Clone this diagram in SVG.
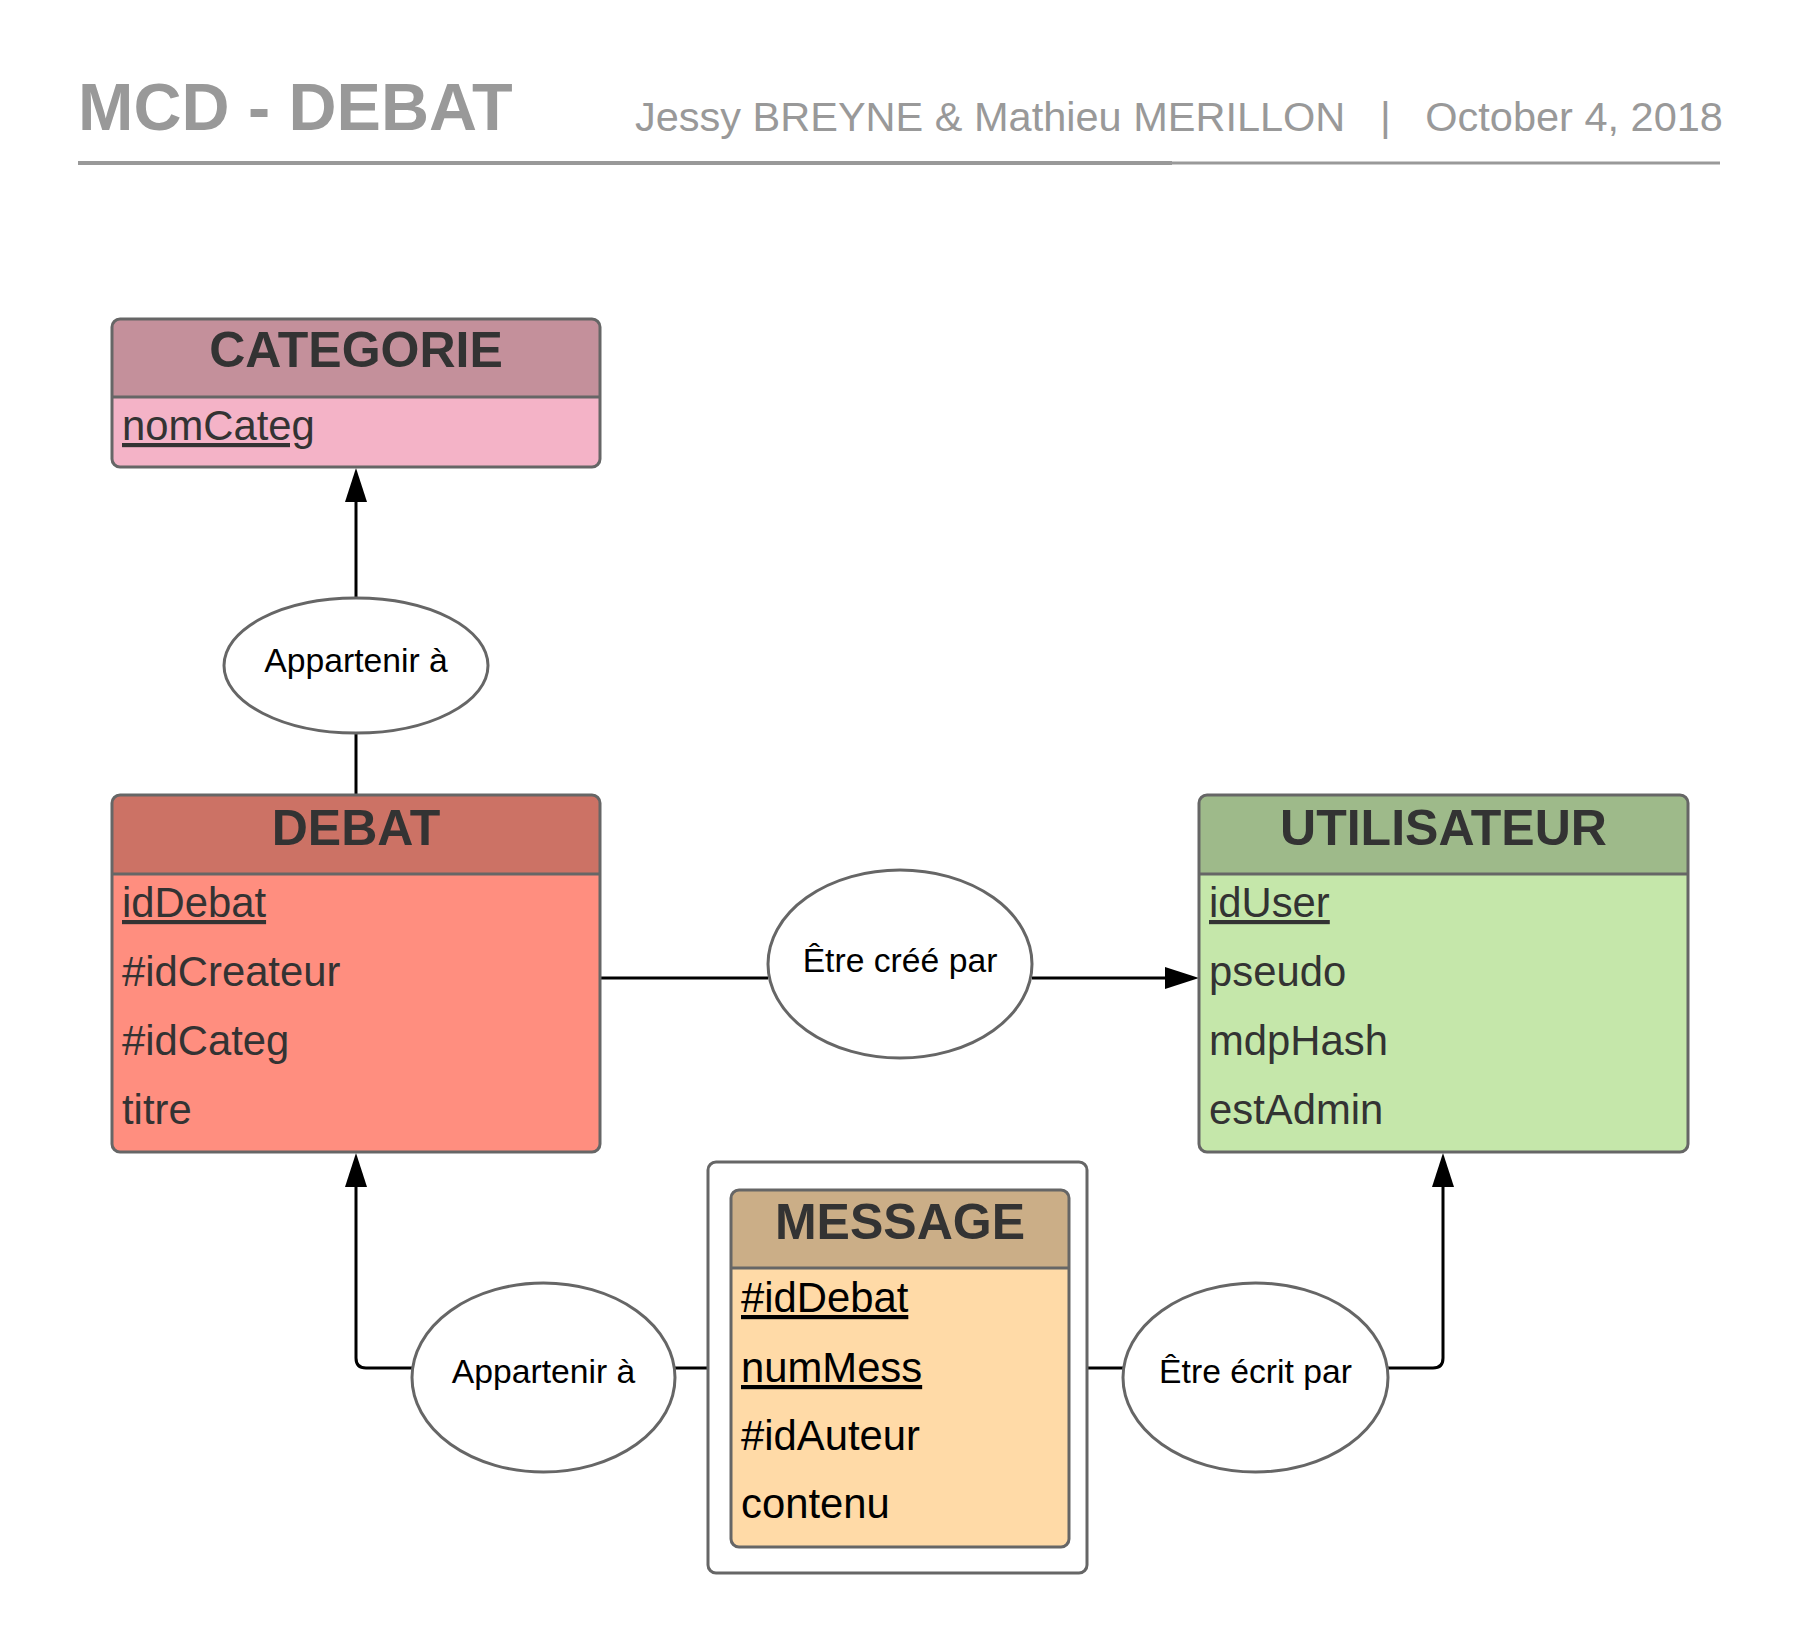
<svg xmlns="http://www.w3.org/2000/svg" width="1800" height="1650" viewBox="0 0 1800 1650">
<style>
.title{font-family:"Liberation Sans",Arial,sans-serif;font-weight:bold;font-size:66.5px;fill:#999999}
.sub{font-family:"Liberation Sans",Arial,sans-serif;font-size:41.5px;fill:#999999}
.hdr{font-family:"Liberation Sans",Arial,sans-serif;font-weight:bold;font-size:50px;fill:#333333;text-anchor:middle}
.row{font-family:"Liberation Sans",Arial,sans-serif;font-size:41.8px;fill:#333333}
.rowk{font-family:"Liberation Sans",Arial,sans-serif;font-size:41.8px;fill:#000000}
.key{text-decoration:underline}
.rel{font-family:"Liberation Sans",Arial,sans-serif;font-size:33.7px;fill:#000000;text-anchor:middle}
.outline{fill:none;stroke:#666666;stroke-width:3}
.div{stroke:#666666;stroke-width:3}
.ell{fill:#ffffff;stroke:#666666;stroke-width:3}
.conn{fill:none;stroke:#000000;stroke-width:3}
</style>
<defs>
<marker id="arr" markerUnits="userSpaceOnUse" markerWidth="34" markerHeight="22" viewBox="0 0 34 22" refX="0" refY="11" orient="auto">
<path d="M0,0 L34,11 L0,22 z" fill="#000000"/>
</marker>
</defs>

<g id="header">
<text class="title" x="78" y="130">MCD - DEBAT</text>
<text class="sub" x="635" y="131" xml:space="preserve">Jessy BREYNE &amp; Mathieu MERILLON   |   October 4, 2018</text>
<line x1="78" y1="163" x2="1172" y2="163" stroke="#999999" stroke-width="4"/>
<line x1="1172" y1="163" x2="1720" y2="163" stroke="#999999" stroke-width="3"/>
</g>

<g id="connectors">
<path class="conn" d="M356,795 V733"/>
<path class="conn" d="M356,598 V502" marker-end="url(#arr)"/>
<path class="conn" d="M600,978 H768"/>
<path class="conn" d="M1032,978 H1165" marker-end="url(#arr)"/>
<path class="conn" d="M708,1368 H675"/>
<path class="conn" d="M412,1368 H366 Q356,1368 356,1358 V1187" marker-end="url(#arr)"/>
<path class="conn" d="M1087,1368 H1123"/>
<path class="conn" d="M1388,1368 H1433 Q1443,1368 1443,1358 V1187" marker-end="url(#arr)"/>
</g>

<g id="categorie">
<rect x="112" y="319" width="488" height="148" rx="8" fill="#F4B3C7"/>
<path d="M112,397 V327 Q112,319 120,319 H592 Q600,319 600,327 V397 Z" fill="#C4909B"/>
<line class="div" x1="112" y1="397" x2="600" y2="397"/>
<rect class="outline" x="112" y="319" width="488" height="148" rx="8"/>
<text class="hdr" x="356" y="367">CATEGORIE</text>
<text class="row key" x="122" y="440">nomCateg</text>
</g>

<g id="rel-appartenir-categ">
<ellipse class="ell" cx="356" cy="665.5" rx="132" ry="67.5"/>
<text class="rel" x="356" y="672">Appartenir à</text>
</g>

<g id="debat">
<rect x="112" y="795" width="488" height="357" rx="8" fill="#FF8E7F"/>
<path d="M112,874 V803 Q112,795 120,795 H592 Q600,795 600,803 V874 Z" fill="#CC7265"/>
<line class="div" x1="112" y1="874" x2="600" y2="874"/>
<rect class="outline" x="112" y="795" width="488" height="357" rx="8"/>
<text class="hdr" x="356" y="845">DEBAT</text>
<text class="row key" x="122" y="917">idDebat</text>
<text class="row" x="122" y="986">#idCreateur</text>
<text class="row" x="122" y="1055">#idCateg</text>
<text class="row" x="122" y="1124">titre</text>
</g>

<g id="rel-etre-cree-par">
<ellipse class="ell" cx="900" cy="964" rx="132" ry="94"/>
<text class="rel" x="900" y="972">Être créé par</text>
</g>

<g id="utilisateur">
<rect x="1199" y="795" width="489" height="357" rx="8" fill="#C5E7AA"/>
<path d="M1199,874 V803 Q1199,795 1207,795 H1680 Q1688,795 1688,803 V874 Z" fill="#9EBA8A"/>
<line class="div" x1="1199" y1="874" x2="1688" y2="874"/>
<rect class="outline" x="1199" y="795" width="489" height="357" rx="8"/>
<text class="hdr" x="1443.5" y="845">UTILISATEUR</text>
<text class="row key" x="1209" y="917">idUser</text>
<text class="row" x="1209" y="986">pseudo</text>
<text class="row" x="1209" y="1055">mdpHash</text>
<text class="row" x="1209" y="1124">estAdmin</text>
</g>

<g id="rel-appartenir-debat">
<ellipse class="ell" cx="543.5" cy="1377.5" rx="131.5" ry="94.5"/>
<text class="rel" x="543.5" y="1383">Appartenir à</text>
</g>

<g id="message">
<rect x="708" y="1162" width="379" height="411" rx="8" fill="#ffffff" stroke="#666666" stroke-width="3"/>
<rect x="731" y="1190" width="338" height="357" rx="8" fill="#FFDAA7"/>
<path d="M731,1268 V1198 Q731,1190 739,1190 H1061 Q1069,1190 1069,1198 V1268 Z" fill="#CBAE87"/>
<line class="div" x1="731" y1="1268" x2="1069" y2="1268"/>
<rect class="outline" x="731" y="1190" width="338" height="357" rx="8"/>
<text class="hdr" x="900" y="1239">MESSAGE</text>
<text class="rowk key" x="741" y="1312">#idDebat</text>
<text class="rowk key" x="741" y="1382">numMess</text>
<text class="rowk" x="741" y="1450">#idAuteur</text>
<text class="rowk" x="741" y="1518">contenu</text>
</g>

<g id="rel-etre-ecrit-par">
<ellipse class="ell" cx="1255.5" cy="1377.5" rx="132.5" ry="94.5"/>
<text class="rel" x="1255.5" y="1383">Être écrit par</text>
</g>
</svg>
